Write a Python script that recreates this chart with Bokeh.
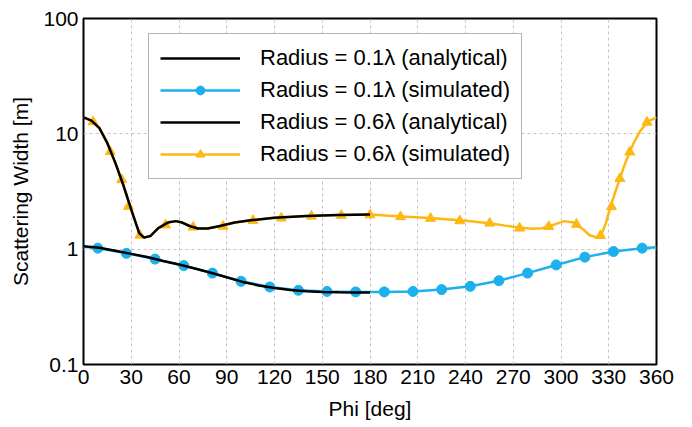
from bokeh.plotting import figure
from bokeh.models import (FixedTicker, CustomJSTickFormatter, Legend, LegendItem, Range1d)
from bokeh.embed import file_html
from bokeh.resources import INLINE

# ---- data ----
x_ticks = [0, 30, 60, 90, 120, 150, 180, 210, 240, 270, 300, 330, 360]
y_ticks = [0.1, 1, 10, 100]

# Radius = 0.1 lambda, analytical (0..180 deg)
a01_phi = [0, 10, 20, 30, 40, 50, 60, 70, 80, 90, 100, 110, 120, 130, 140, 150, 160, 170, 180]
a01_val = [1.06, 1.03, 0.97, 0.91, 0.855, 0.79, 0.735, 0.68, 0.625, 0.57, 0.52, 0.485, 0.46, 0.442, 0.432, 0.426, 0.423, 0.421, 0.42]

# Radius = 0.1 lambda, simulated (0..360 deg)
s01_phi = [0, 9, 27, 45, 63, 81, 99, 117, 135, 153, 171, 189, 207, 225, 243, 261, 279, 297, 315, 333, 351, 360]
s01_val = [1.05, 1.02, 0.92, 0.82, 0.72, 0.62, 0.526, 0.47, 0.44, 0.43, 0.426, 0.426, 0.43, 0.446, 0.476, 0.533, 0.62, 0.73, 0.853, 0.953, 1.02, 1.04]
s01_mk_phi = s01_phi[1:-1]
s01_mk_val = s01_val[1:-1]

# Radius = 0.6 lambda, analytical (0..180 deg)
a06_phi = [0, 5, 10, 15, 20, 25, 30, 35, 38, 42, 47, 53, 58, 62, 67, 72, 78, 85, 95, 105, 120, 140, 160, 180]
a06_val = [13.9, 13.0, 11.2, 8.3, 5.6, 3.6, 2.2, 1.38, 1.26, 1.30, 1.52, 1.70, 1.75, 1.70, 1.58, 1.51, 1.51, 1.58, 1.70, 1.78, 1.87, 1.94, 1.98, 2.0]

# Radius = 0.6 lambda, simulated (0..360 deg)
s06_phi = [0, 5, 10, 15, 20, 25, 30, 35, 38, 42, 47, 53, 58, 62, 67, 72, 78, 85, 95, 105, 120, 140, 160, 180,
           200, 220, 240, 255, 265, 275, 282, 288, 295, 302, 308, 314, 318, 322, 325, 328, 331, 334, 337, 340,
           343, 346, 350, 355, 360]
s06_val = [13.9, 13.0, 11.2, 8.3, 5.6, 3.6, 2.2, 1.38, 1.26, 1.30, 1.52, 1.70, 1.75, 1.70, 1.58, 1.51, 1.51, 1.58, 1.70, 1.78, 1.87, 1.94, 1.98, 2.0,
           1.92, 1.85, 1.76, 1.68, 1.60, 1.53, 1.50, 1.52, 1.62, 1.75, 1.70, 1.48, 1.32, 1.27, 1.30, 1.65, 2.3, 3.1, 4.1, 5.4,
           6.9, 8.5, 10.7, 12.9, 13.9]
s06_mk_phi = [6, 16.8, 24, 28.3, 35.4, 51.5, 68.9, 87.7, 106.5, 124.3, 143.2, 162, 180,
              199.2, 218, 236.4, 255.2, 274, 292.3, 309.7, 324.8, 331.7, 337, 343.2, 354]
s06_mk_val = [12.7, 7.0, 4.0, 2.35, 1.32, 1.62, 1.55, 1.58, 1.77, 1.86, 1.93, 1.96, 1.98,
              1.91, 1.85, 1.76, 1.68, 1.52, 1.57, 1.64, 1.31, 2.33, 4.09, 6.95, 12.6]

labels = ["Radius = 0.1\u03bb (analytical)", "Radius = 0.1\u03bb (simulated)",
          "Radius = 0.6\u03bb (analytical)", "Radius = 0.6\u03bb (simulated)"]

BLUE = "#1cb0ec"
YELLOW = "#fdb813"
FONT = "Liberation Sans"

p = figure(width=692, height=427, output_backend="svg", toolbar_location=None,
           y_axis_type="log", x_range=Range1d(0, 360), y_range=Range1d(0.1, 100),
           min_border_left=83, min_border_right=36, min_border_top=18, min_border_bottom=63)

p.outline_line_color = "black"
p.outline_line_width = 2
p.background_fill_color = "white"
p.border_fill_color = "white"

for ax in (p.xaxis[0], p.yaxis[0]):
    ax.axis_line_color = None
    ax.major_tick_in = 0
    ax.major_tick_out = 0
    ax.minor_tick_in = 0
    ax.minor_tick_out = 0
    ax.major_label_text_font = FONT
    ax.major_label_text_font_size = "21px"
    ax.major_label_text_color = "black"
    ax.axis_label_text_font = FONT
    ax.axis_label_text_font_size = "21px"
    ax.axis_label_text_font_style = "normal"
    ax.axis_label_text_color = "black"

p.xaxis.ticker = FixedTicker(ticks=x_ticks)
p.yaxis.ticker = FixedTicker(ticks=y_ticks)
p.yaxis.formatter = CustomJSTickFormatter(code="return tick.toString();")
p.xaxis.axis_label = "Phi [deg]"
p.yaxis.axis_label = "Scattering Width [m]"
p.xaxis.major_label_standoff = 5
p.xaxis.axis_label_standoff = 10
p.yaxis.major_label_standoff = 5
p.yaxis.axis_label_standoff = 8

for g in (p.xgrid[0], p.ygrid[0]):
    g.grid_line_color = "#c4c4c4"
    g.grid_line_dash = "3 3"
    g.grid_line_width = 1
p.ygrid.minor_grid_line_color = None

# simulated lines (drawn first, analytical on top)
l_s01 = p.line(s01_phi, s01_val, line_color=BLUE, line_width=2.5)
m_s01 = p.scatter(s01_mk_phi, s01_mk_val, marker="circle", size=10, fill_color=BLUE, line_color=BLUE)
l_s06 = p.line(s06_phi, s06_val, line_color=YELLOW, line_width=2.5)
m_s06 = p.scatter(s06_mk_phi, s06_mk_val, marker="triangle", size=10, fill_color=YELLOW, line_color=YELLOW)
l_a01 = p.line(a01_phi, a01_val, line_color="black", line_width=2.5)
l_a06 = p.line(a06_phi, a06_val, line_color="black", line_width=2.5)

legend = Legend(items=[
    LegendItem(label=labels[0], renderers=[l_a01]),
    LegendItem(label=labels[1], renderers=[l_s01, m_s01]),
    LegendItem(label=labels[2], renderers=[l_a06]),
    LegendItem(label=labels[3], renderers=[l_s06, m_s06]),
], location=(65, 185))
legend.label_text_font = FONT
legend.label_text_font_size = "22px"
legend.label_text_color = "black"
legend.glyph_width = 80
legend.glyph_height = 22
legend.label_height = 22
legend.spacing = 6
legend.label_standoff = 20
legend.padding = 11
legend.margin = 0
legend.border_line_color = "#6a6a6a"
legend.border_line_width = 1.2
legend.background_fill_color = "white"
legend.background_fill_alpha = 1
p.add_layout(legend, "center")

open("out.html", "w").write(file_html(p, INLINE))
